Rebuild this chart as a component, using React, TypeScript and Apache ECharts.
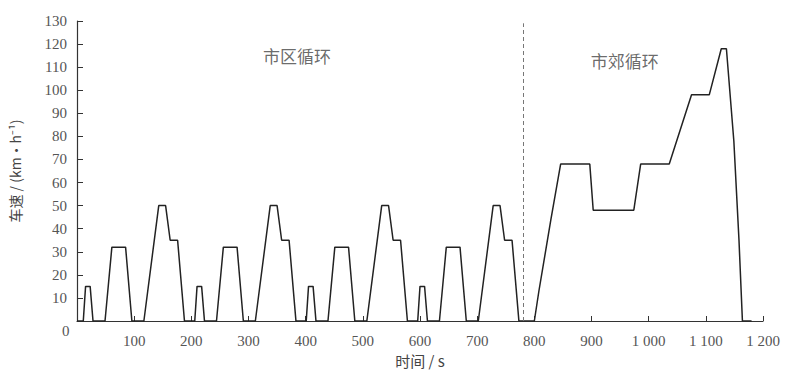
import React, { useEffect, useRef } from "react";
import * as echarts from "echarts";

// Urban cycle (4 x ECE-15) time stamps (s) and speeds (km/h)
const urbanTimes = [
  0, 11, 15, 23, 28, 49, 61, 85, 96, 117, 143, 155, 163, 176, 188,
  195, 206, 210, 218, 223, 244, 256, 280, 291, 312, 338, 350, 358, 371, 383,
  390, 401, 405, 413, 418, 439, 451, 475, 486, 507, 533, 545, 553, 566, 578,
  585, 596, 600, 608, 613, 634, 646, 670, 681, 702, 728, 740, 748, 761, 773,
  780,
];
const urbanSpeeds = [
  0, 0, 15, 15, 0, 0, 32, 32, 0, 0, 50, 50, 35, 35, 0,
  0, 0, 15, 15, 0, 0, 32, 32, 0, 0, 50, 50, 35, 35, 0,
  0, 0, 15, 15, 0, 0, 32, 32, 0, 0, 50, 50, 35, 35, 0,
  0, 0, 15, 15, 0, 0, 32, 32, 0, 0, 50, 50, 35, 35, 0,
  0,
];
// Extra-urban cycle
const suburbTimes = [800, 808, 829, 846, 897, 903, 974, 986, 1036, 1075, 1106, 1127, 1136, 1149, 1158, 1164, 1180];
const suburbSpeeds = [0, 13, 44, 68, 68, 48, 48, 68, 68, 98, 98, 118, 118, 78, 35, 0, 0];

const xTickLabels: Record<number, string> = {
  100: "100", 200: "200", 300: "300", 400: "400", 500: "500", 600: "600",
  700: "700", 800: "800", 900: "900", 1000: "1 000", 1100: "1 100", 1200: "1 200",
};
const boundaryTime = 780;
const regionLabels = ["市区循环", "市郊循环"];

export default function App() {
  const ref = useRef<HTMLDivElement>(null);
  useEffect(() => {
    if (!ref.current) return;
    const chart = echarts.init(ref.current, undefined, { renderer: "svg" });
    const data: number[][] = [];
    urbanTimes.forEach((t, i) => data.push([t, urbanSpeeds[i]]));
    suburbTimes.forEach((t, i) => data.push([t, suburbSpeeds[i]]));
    const serif = "Liberation Serif";
    const cjk = "Noto Sans CJK SC";
    const axisColor = "#333";
    const labelStyle = { fontFamily: serif, fontSize: 15, color: "#555" };
    chart.setOption({
      animation: false,
      backgroundColor: "#fff",
      textStyle: { fontFamily: serif },
      grid: { left: 77, right: 22, top: 21, bottom: 53 },
      xAxis: {
        type: "value",
        min: 0,
        max: 1200,
        interval: 100,
        name: "时间 / s",
        nameLocation: "middle",
        nameGap: 31,
        nameTextStyle: { fontFamily: cjk, fontSize: 15, color: "#444" },
        axisLine: { show: true, onZero: false, lineStyle: { color: axisColor, width: 1.2 } },
        axisTick: { show: true, inside: true, length: 5, lineStyle: { color: axisColor } },
        axisLabel: {
          margin: 12,
          ...labelStyle,
          formatter: (v: number) => xTickLabels[v] ?? "",
        },
        splitLine: { show: false },
      },
      yAxis: {
        type: "value",
        min: 0,
        max: 130,
        interval: 10,
        name: "车速 / (km·h⁻¹)",
        nameLocation: "middle",
        nameGap: 55,
        nameRotate: 90,
        nameTextStyle: { fontFamily: cjk, fontSize: 14, color: "#444" },
        axisLine: { show: true, lineStyle: { color: axisColor, width: 1.2 } },
        axisTick: { show: true, inside: true, length: 6, lineStyle: { color: axisColor } },
        axisLabel: {
          margin: 10,
          ...labelStyle,
          formatter: (v: number) => (v === 0 ? "" : String(v)),
        },
        splitLine: { show: false },
      },
      graphic: [
        {
          type: "text",
          left: 62,
          top: 323,
          style: { text: "0", font: "15px \"Liberation Serif\"", fill: "#555" },
        },
      ],
      series: [
        {
          type: "line",
          data,
          showSymbol: false,
          symbol: "none",
          lineStyle: { color: "#222", width: 1.5 },
          markLine: {
            silent: true,
            symbol: "none",
            label: { show: false },
            lineStyle: { color: "#777", type: [4, 3], width: 1 },
            data: [[{ coord: [boundaryTime, 0] }, { coord: [boundaryTime, 129] }]],
          },
        },
        {
          type: "scatter",
          data: [
            { value: [385, 115], name: regionLabels[0] },
            { value: [958, 113], name: regionLabels[1] },
          ],
          symbolSize: 0,
          silent: true,
          label: {
            show: true,
            position: "inside",
            formatter: (p: any) => p.name,
            fontFamily: cjk,
            fontSize: 17,
            color: "#444",
          },
        },
      ],
    });
    return () => chart.dispose();
  }, []);
  return (
    <div
      ref={ref}
      style={{ position: "absolute", left: 0, top: 0, width: 785, height: 374 }}
    />
  );
}
